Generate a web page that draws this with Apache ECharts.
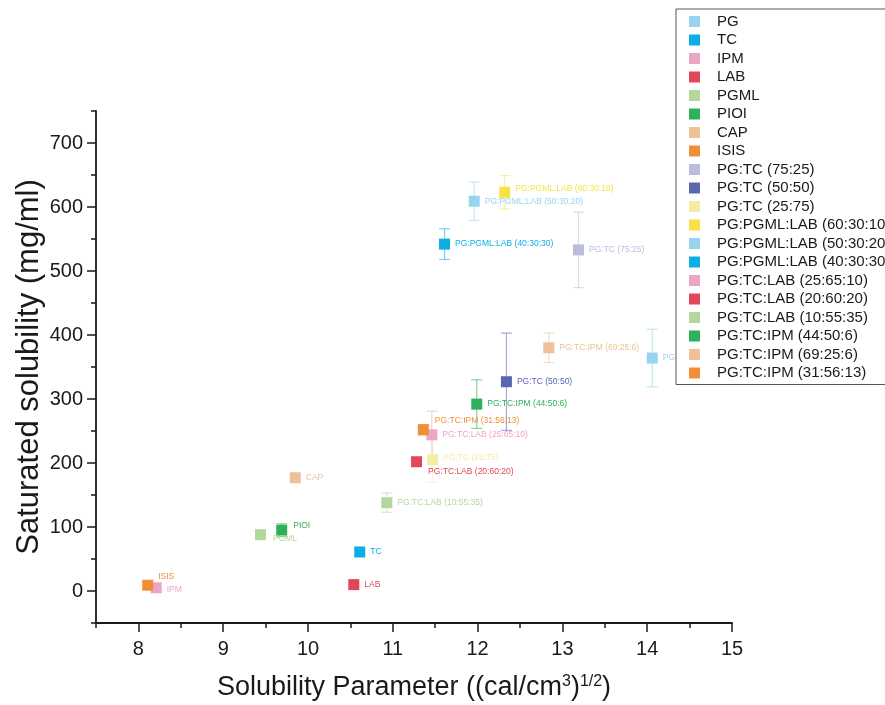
<!DOCTYPE html>
<html>
<head>
<meta charset="utf-8">
<script src="https://cdn.jsdelivr.net/npm/echarts@6.0.0/dist/echarts.min.js"></script>
<style>
  html, body { margin: 0; padding: 0; background: #fff; }
  #chart { width: 885px; height: 705px; }
</style>
</head>
<body>
<div id="chart"></div>
<script>
// one point per formulation: solubility parameter vs saturated solubility (+/- error)
const names = [
    'PG', 'TC', 'IPM', 'LAB', 'PGML', 'PIOI', 'CAP', 'ISIS',
    'PG:TC (75:25)', 'PG:TC (50:50)', 'PG:TC (25:75)',
    'PG:PGML:LAB (60:30:10)', 'PG:PGML:LAB (50:30:20)', 'PG:PGML:LAB (40:30:30)',
    'PG:TC:LAB (25:65:10)', 'PG:TC:LAB (20:60:20)', 'PG:TC:LAB (10:55:35)',
    'PG:TC:IPM (44:50:6)', 'PG:TC:IPM (69:25:6)', 'PG:TC:IPM (31:56:13)'
];
const xValues = [
    14.06, 10.61, 8.21, 10.54, 9.44, 9.69, 9.85, 8.11,
    13.19, 12.34, 11.47,
    12.32, 11.96, 11.61,
    11.46, 11.28, 10.93,
    11.99, 12.84, 11.36
];
const yValues = [
    364, 61, 5, 10, 88, 95, 177, 9,
    533, 327, 205,
    623, 609, 542,
    244, 202, 138,
    292, 380, 252
];
const yErrors = [
    45, 0, 0, 0, 0, 10, 0, 0,
    59, 76, 35,
    26, 30, 24,
    37, 0, 15,
    38, 23, 8
];
const xTicks = [8, 9, 10, 11, 12, 13, 14, 15];
const xMinorTicks = [7.5, 8.5, 9.5, 10.5, 11.5, 12.5, 13.5, 14.5];
const yTicks = [0, 100, 200, 300, 400, 500, 600, 700];
const yMinorTicks = [-50, 50, 150, 250, 350, 450, 550, 650, 750];

const colors = [
    '#97d4f0', '#0bafe6', '#eda5c5', '#e0475b', '#b4d79e', '#2eb15a', '#eec198', '#f18f38',
    '#bbbcdc', '#5b66b1', '#f5eca4',
    '#f8e146', '#97d4f0', '#0bafe6',
    '#eda5c5', '#e0475b', '#b4d79e',
    '#2eb15a', '#eec198', '#f18f38'
];
const labelOffsets = {
    'ISIS': [0, -9],
    'IPM': [0, 2],
    'PGML': [2, 4],
    'PIOI': [1, -5],
    'PG:TC (25:75)': [0, -2],
    'PG:TC:LAB (20:60:20)': [1, 10],
    'PG:TC:IPM (31:56:13)': [1, -9],
    'PG:PGML:LAB (60:30:10)': [0, -4]
};

const FONT = '"Liberation Sans", Arial, sans-serif';
const INK = '#1a1a1a';

let myChart = echarts.init(document.getElementById('chart'));

const pointSeries = names.map((n, i) => ({
    name: n,
    type: 'scatter',
    symbol: 'rect',
    symbolSize: 11,
    z: 3,
    data: [[xValues[i], yValues[i]]],
    itemStyle: { color: colors[i], opacity: 1 },
    label: {
        show: true,
        position: 'right',
        distance: 5,
        offset: labelOffsets[n] || [0, 0],
        formatter: n,
        fontSize: 8.5,
        fontFamily: FONT,
        color: colors[i]
    },
    emphasis: { disabled: true }
}));

const errorSeries = {
    type: 'custom',
    silent: true,
    z: 2,
    encode: { x: 0, y: 1 },
    data: names.map((n, i) => [xValues[i], yValues[i], yErrors[i], i]),
    renderItem: function (params, api) {
        const err = api.value(2);
        if (!err) return;
        const x = api.value(0), y = api.value(1);
        const top = api.coord([x, y + err]);
        const bot = api.coord([x, y - err]);
        const half = 5.5;
        const style = { stroke: colors[api.value(3)], lineWidth: 1.2, opacity: 0.55 };
        return {
            type: 'group',
            children: [
                { type: 'line', shape: { x1: top[0], y1: top[1], x2: bot[0], y2: bot[1] }, style: style },
                { type: 'line', shape: { x1: top[0] - half, y1: top[1], x2: top[0] + half, y2: top[1] }, style: style },
                { type: 'line', shape: { x1: bot[0] - half, y1: bot[1], x2: bot[0] + half, y2: bot[1] }, style: style }
            ]
        };
    }
};

const axisLineStyle = { color: INK, width: 1.8 };
const tickStyle = { color: INK, width: 1.5 };

let option = {
    animation: false,
    backgroundColor: '#fff',
    grid: {
        left: 96,
        right: 153,
        top: 111,
        bottom: 82,
        containLabel: false,
        outerBoundsMode: 'none'
    },
    legend: {
        orient: 'vertical',
        left: 676,
        top: 9,
        padding: [5, 10, 4, 13],
        itemGap: 3.5,
        itemWidth: 11,
        itemHeight: 11,
        icon: 'rect',
        backgroundColor: '#fff',
        borderColor: '#555',
        borderWidth: 1,
        borderRadius: 0,
        textStyle: {
            fontSize: 15,
            fontFamily: FONT,
            color: INK,
            padding: [0, 0, 0, 12]
        },
        data: names
    },
    xAxis: [
        {
            type: 'value',
            position: 'bottom',
            min: 7.5,
            max: 15,
            axisLine: { show: true, onZero: false, lineStyle: axisLineStyle },
            axisTick: { show: true, length: 9, customValues: xTicks, lineStyle: tickStyle },
            axisLabel: { customValues: xTicks, fontSize: 20, margin: 16, color: INK, fontFamily: FONT },
            splitLine: { show: false },
            name: 'Solubility Parameter ((cal/cm{sup|3}){sup|1/2})',
            nameLocation: 'middle',
            nameGap: 51,
            nameTextStyle: {
                fontSize: 27,
                fontFamily: FONT,
                color: INK,
                rich: {
                    sup: { fontSize: 16, fontFamily: FONT, color: INK, verticalAlign: 'top' }
                }
            }
        },
        {
            type: 'value',
            position: 'bottom',
            min: 7.5,
            max: 15,
            axisLine: { show: false, onZero: false },
            axisTick: { show: true, length: 5, customValues: xMinorTicks, lineStyle: tickStyle },
            axisLabel: { show: false },
            splitLine: { show: false }
        }
    ],
    yAxis: [
        {
            type: 'value',
            position: 'left',
            min: -50,
            max: 750,
            axisLine: { show: true, onZero: false, lineStyle: axisLineStyle },
            axisTick: { show: true, length: 9, customValues: yTicks, lineStyle: tickStyle },
            axisLabel: { customValues: yTicks, fontSize: 20, margin: 13, color: INK, fontFamily: FONT },
            splitLine: { show: false },
            name: 'Saturated solubility (mg/ml)',
            nameLocation: 'middle',
            nameGap: 51,
            nameMoveOverlap: false,
            nameTextStyle: { fontSize: 31, fontFamily: FONT, color: INK }
        },
        {
            type: 'value',
            position: 'left',
            min: -50,
            max: 750,
            axisLine: { show: false, onZero: false },
            axisTick: { show: true, length: 5, customValues: yMinorTicks, lineStyle: tickStyle },
            axisLabel: { show: false },
            splitLine: { show: false }
        }
    ],
    series: [errorSeries].concat(pointSeries)
};

myChart.setOption(option);
</script>
</body>
</html>
